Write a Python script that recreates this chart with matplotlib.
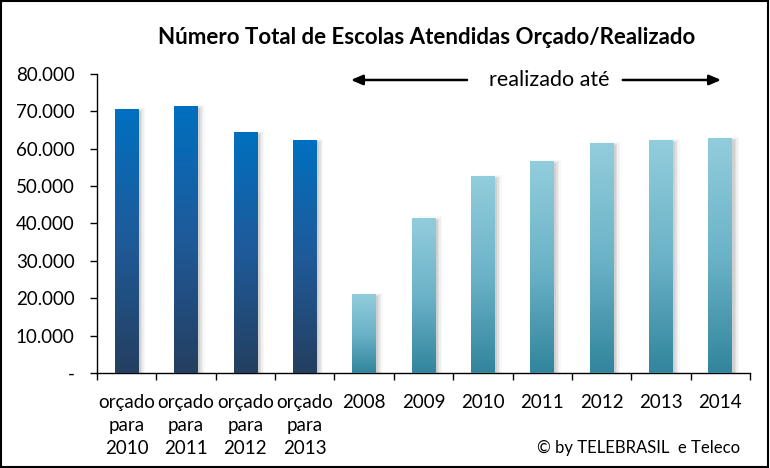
import numpy as np
import matplotlib
matplotlib.use('Agg')
import matplotlib.pyplot as plt
from matplotlib.colors import LinearSegmentedColormap
from matplotlib.patches import Rectangle

categorias = ['orçado\npara\n2010', 'orçado\npara\n2011', 'orçado\npara\n2012', 'orçado\npara\n2013',
              '2008', '2009', '2010', '2011', '2012', '2013', '2014']
escolas = [70600, 71500, 64500, 62300, 21200, 41600, 52700, 56700, 61500, 62300, 62900]
orcado = [True, True, True, True, False, False, False, False, False, False, False]
yticks = [0, 10000, 20000, 30000, 40000, 50000, 60000, 70000, 80000]
ylabels = ['-', '10.000', '20.000', '30.000', '40.000', '50.000', '60.000', '70.000', '80.000']

plt.rcParams['font.family'] = ['Lato', 'DejaVu Sans']

fig = plt.figure(figsize=(7.7, 4.68), dpi=100)
ax = fig.add_axes([97/770, 1-373/468, (750-97)/770, (373-74)/468])

cmap_azul = LinearSegmentedColormap.from_list('azul', ['#243f60', '#1f5a99', '#0070c0'])
cmap_claro = LinearSegmentedColormap.from_list('claro', ['#31859c', '#6cb3c8', '#92cddc'])

x = np.arange(len(categorias))
largura = 0.4
barras = ax.bar(x, escolas, width=largura, color='none', zorder=3)

for i, b in enumerate(barras):
    x0 = b.get_x()
    h = b.get_height()
    # sombra
    for k, a in enumerate([0.16, 0.12, 0.08, 0.05]):
        ax.add_patch(Rectangle((x0 + 0.04 + k*0.025, 0), largura, h - 600 + k*300,
                               color='gray', alpha=a, lw=0, zorder=2))
    grad = np.linspace(0, 1, 256).reshape(-1, 1)
    cm = cmap_azul if orcado[i] else cmap_claro
    im = ax.imshow(grad, cmap=cm, origin='lower', aspect='auto',
                   extent=[x0, x0 + largura, 0, h], zorder=3)
    im.set_clip_path(b)

ax.set_xlim(-0.5, len(categorias) - 0.5)
ax.set_ylim(0, 80000)
ax.set_yticks(yticks)
ax.set_yticklabels(ylabels, fontsize=13.5)
ax.set_xticks(np.arange(-0.5, len(categorias), 1), minor=True)
ax.set_xticks(x)
ax.set_xticklabels(categorias, fontsize=13.5, linespacing=1.45)
ax.tick_params(axis='x', which='major', length=0, pad=15)
ax.tick_params(axis='x', which='minor', length=5, direction='out', width=1)
ax.tick_params(axis='y', length=5, width=1, pad=11)
ax.spines['top'].set_visible(False)
ax.spines['right'].set_visible(False)
ax.spines['left'].set_linewidth(1)
ax.spines['bottom'].set_linewidth(1)

fig.text(427/770, 1-37/468, 'Número Total de Escolas Atendidas Orçado/Realizado',
         ha='center', va='center', fontsize=16, fontweight='bold')
fig.text(549/770, 1-80/468, 'realizado até', ha='center', va='center', fontsize=15.5)
seta = dict(arrowstyle='-|>,head_length=0.7,head_width=0.3', color='black', lw=1.8)
ax.annotate('', xy=(3.73, 78400), xytext=(5.78, 78400),
            arrowprops=seta, annotation_clip=False)
ax.annotate('', xy=(10.06, 78400), xytext=(8.31, 78400),
            arrowprops=seta, annotation_clip=False)
fig.text(740/770, 1-448/468, '© by TELEBRASIL  e Teleco', ha='right', va='center', fontsize=12)

fig.add_artist(Rectangle((0.001, 0.002), 0.997, 0.996, transform=fig.transFigure,
                         fill=False, edgecolor='black', lw=1.5))

fig.savefig('out.png', dpi=100)
